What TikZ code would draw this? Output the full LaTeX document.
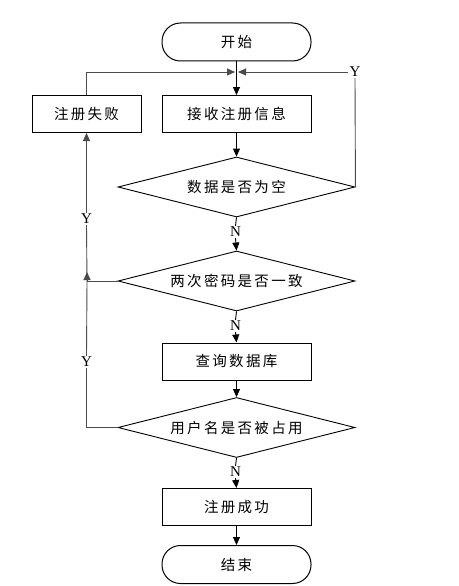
\documentclass[tikz,border=0pt]{standalone}
\usepackage{fontspec}
\setmainfont{Liberation Serif}
\newfontfamily\cjk[LetterSpace=16]{Noto Sans CJK SC}
\usetikzlibrary{shapes.geometric,arrows.meta}
\begin{document}
\begin{tikzpicture}[x=1pt,y=1pt,
  cjkfont/.style={font=\cjk\fontsize{14.5}{14.5}\selectfont},
  box/.style={draw,line width=1pt,minimum width=149pt,minimum height=37pt,inner sep=0pt,cjkfont},
  term/.style={draw,line width=1pt,rounded corners=18.5pt,minimum width=149pt,minimum height=38pt,inner sep=0pt,cjkfont},
  dec/.style={draw,line width=0.9pt,diamond,aspect=3.95,minimum width=237pt,minimum height=60pt,inner sep=0pt,cjkfont},
  lab/.style={fill=white,inner sep=1pt,font=\fontsize{15}{15}\selectfont},
  arr/.style={line width=0.9pt,-{Triangle[length=8pt,width=7pt]}},
  ln/.style={line width=0.9pt,draw=black!70},
  garr/.style={line width=0.9pt,draw=black!70,-{Triangle[length=8pt,width=7pt]}}]
\useasboundingbox (0,0) rectangle (458,-586);
\fill[white] (0,0) rectangle (458,-586);
\node[term] (start) at (236.5,-42) {开始};
\node[box,minimum width=109pt] (fail) at (86.5,-114) {注册失败};
\node[box] (recv) at (236.5,-114) {接收注册信息};
\node[dec] (d1) at (236.5,-187) {数据是否为空};
\node[dec] (d2) at (236.5,-281) {两次密码是否一致};
\node[box] (query) at (236.5,-361.5) {查询数据库};
\node[dec] (d3) at (236.5,-427.5) {用户名是否被占用};
\node[box] (ok) at (236.5,-507) {注册成功};
\node[term] (end) at (236.5,-564.5) {结束};
\coordinate (J) at (236.5,-72);
\coordinate (L2) at (87,-281);
\node[lab] (Y1) at (355,-72) {Y};
\node[lab] (Y2) at (86.5,-219) {Y};
\node[lab] (Y3) at (86.5,-362) {Y};
\node[lab] (N1) at (235.5,-232) {N};
\node[lab] (N2) at (235.5,-326) {N};
\node[lab] (N3) at (235.5,-472) {N};
% main flow
\draw[arr] (start) -- (recv);
\draw[arr] (recv) -- (d1);
\draw[line width=0.9pt] (d1.south) -- (N1.north);
\draw[arr] (N1.south) -- (d2.north);
\draw[line width=0.9pt] (d2.south) -- (N2.north);
\draw[arr] (N2.south) -- (query.north);
\draw[arr] (query) -- (d3);
\draw[line width=0.9pt] (d3.south) -- (N3.north);
\draw[arr] (N3.south) -- (ok.north);
\draw[arr] (ok) -- (end);
% feedback loops
\draw[garr,shorten >=1.5pt] (fail.north) |- (J);
\draw[ln] (d1.east) -- (Y1.south);
\draw[garr,shorten >=1.5pt] (Y1.west) -- (J);
\draw[ln] (d2.west) -- (L2);
\draw[garr] (L2) -- ++(0,9);
\draw[ln] (L2) -- (Y2.south);
\draw[garr] (Y2.north) -- (fail.south);
\draw[ln] (d3.west) -| (Y3.south);
\draw[ln] (Y3.north) -- (L2);
\end{tikzpicture}
\end{document}
